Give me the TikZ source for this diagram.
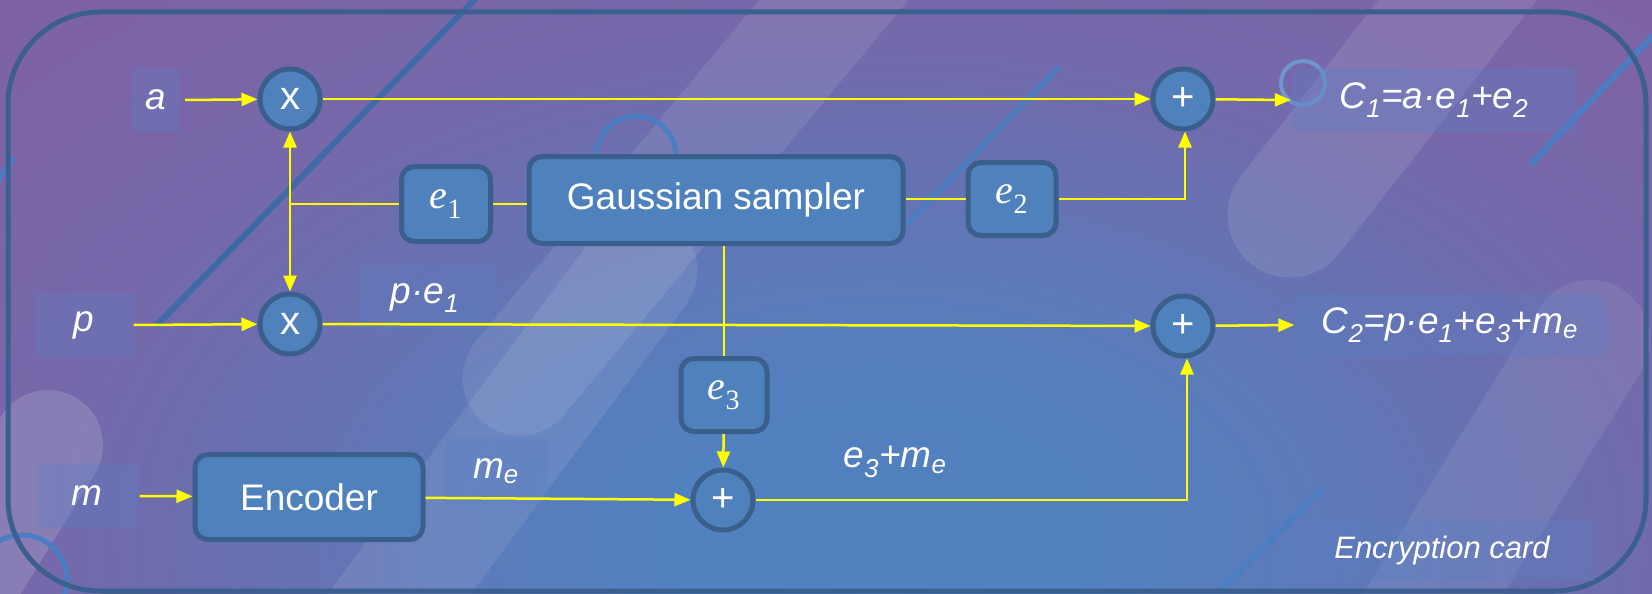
\documentclass[tikz,border=0pt]{standalone}
\usepackage{fontspec}
\setmainfont{Liberation Sans}
\newfontfamily\evarfont{Liberation Serif}
\newcommand{\eSym}[1]{{\evarfont\itshape e}{\evarfont\textsubscript{#1}}}
\usetikzlibrary{arrows.meta}
\definecolor{nodefill}{HTML}{4F81BD}
\definecolor{nodeline}{HTML}{3A5F8C}
\definecolor{wireyellow}{HTML}{FFFF00}
\definecolor{frameline}{HTML}{3B5F8E}
\definecolor{decoline}{HTML}{4A7DC2}
\definecolor{decodark}{HTML}{3F6AA8}
\definecolor{labelfill}{HTML}{5A80C4}
\pgfdeclareradialshading{bgrad}{\pgfpoint{0bp}{0bp}}{rgb(0bp)=(0.31,0.51,0.75); rgb(6bp)=(0.32,0.505,0.75); rgb(12bp)=(0.36,0.48,0.73); rgb(18bp)=(0.41,0.44,0.69); rgb(24bp)=(0.46,0.41,0.67); rgb(32bp)=(0.49,0.39,0.65); rgb(50bp)=(0.50,0.38,0.64)}
\tikzset{
  blockbox/.style={draw=nodeline, line width=5pt, fill=nodefill, rounded corners=13pt, text=white, inner sep=0pt},
  opcircle/.style={draw=nodeline, line width=5pt, fill=nodefill, circle, minimum size=60pt, inner sep=0pt, text=white, font=\fontsize{40}{40}\selectfont},
  labelbox/.style={fill=labelfill, fill opacity=0.3, text opacity=1, text=white, inner sep=0pt, font=\fontsize{37}{40}\selectfont\itshape},
  wire/.style={draw=wireyellow, line width=2.5pt},
  arr/.style={wire, -{Triangle[length=16pt,width=13pt]}},
  capsule/.style={line cap=round, draw=white, draw opacity=0.09},
  deco/.style={line cap=round, line width=5pt, draw=decoline},
}
\begin{document}
\begin{tikzpicture}[x=1pt,y=-1pt]
\useasboundingbox (0,0) rectangle (1652,594);
\begin{scope}
\clip (0,0) rectangle (1652,594);
\shade[shading=bgrad] (0,0) rectangle (1760,1080);
% translucent capsules
\draw[capsule, line width=115pt] (350,660) -- (640,270);
\draw[capsule, line width=115pt] (520,378) -- (900,-80);
\draw[capsule, line width=125pt, draw opacity=0.1] (1290,215) -- (1520,-80);
\draw[capsule, line width=120pt, draw opacity=0.08] (1590,340) -- (1380,680);
\draw[capsule, line width=110pt, draw opacity=0.14] (48,445) -- (-60,620);
% thin decorative lines and rings
\draw[deco, draw=decodark, line width=6pt] (158,324) -- (479,-5);
\draw[deco] (1058,68) -- (908,223);
\draw[deco, line width=6pt] (1660,28) -- (1532,163);
\draw[deco] (1321,490) -- (1210,600);
\draw[deco] (-5,185) -- (13,159);
\draw[decoline, line width=5pt] (636,156) circle[radius=40pt];
\draw[decoline!80!white, line width=4pt] (1303,83) circle[radius=22pt];
\draw[decoline, line width=5pt] (22,580) circle[radius=45pt];
\end{scope}
% card frame
\draw[frameline, line width=5pt, rounded corners=92pt] (8,12) rectangle (1646,591);

% label boxes
\node[labelbox, minimum width=48pt, minimum height=63pt] (a) at (156,100) {a};
\node[labelbox, minimum width=99pt, minimum height=65pt] (p) at (84,325) {p};
\node[labelbox, minimum width=101pt, minimum height=64pt] (m) at (87,496) {m};
\node[labelbox, minimum width=286pt, minimum height=63pt] (c1) at (1434,100) {C\textsubscript{1}=a·e\textsubscript{1}+e\textsubscript{2}};
\node[labelbox, minimum width=311pt, minimum height=63pt] (c2) at (1450,325) {C\textsubscript{2}=p·e\textsubscript{1}+e\textsubscript{3}+m\textsubscript{e}};
\node[labelbox, minimum width=135pt, minimum height=66pt] (pe) at (425,298) {p·e\textsubscript{1}};
\node[labelbox, minimum width=103pt, minimum height=67pt] (me) at (496,471) {m\textsubscript{e}};
\node[labelbox, fill opacity=0.12, minimum width=150pt, minimum height=64pt] (em) at (895,462) {e\textsubscript{3}+m\textsubscript{e}};
\node[labelbox, font=\fontsize{31}{34}\selectfont\itshape, minimum width=305pt, minimum height=61pt] (card) at (1442,550) {Encryption card};

% blocks
\node[opcircle] (x1) at (290,99) {x};
\node[opcircle] (x2) at (290,324) {x};
\node[opcircle] (s1) at (1183,99) {+};
\node[opcircle] (s2) at (1183,326) {+};
\node[opcircle] (s3) at (723,500) {+};
\node[blockbox, minimum width=89pt, minimum height=75pt, font=\fontsize{40}{40}\selectfont] (e1) at (446,204) {\eSym{1}};
\node[blockbox, minimum width=374pt, minimum height=87pt, font=\fontsize{37}{40}\selectfont] (g) at (716,200) {Gaussian sampler};
\node[blockbox, minimum width=88pt, minimum height=73pt, font=\fontsize{40}{40}\selectfont] (e2) at (1012,199) {\eSym{2}};
\node[blockbox, minimum width=86pt, minimum height=73pt, font=\fontsize{40}{40}\selectfont] (e3) at (724,395) {\eSym{3}};
\node[blockbox, minimum width=228pt, minimum height=85pt, font=\fontsize{37}{40}\selectfont] (enc) at (309,497) {Encoder};

% connectors
\draw[arr] ([xshift=5pt]a.east) -- (x1);
\draw[arr] (x1) -- (s1);
\draw[arr] (s1) -- (c1.west);
\draw[arr] (p.east) -- (x2);
\draw[arr] (x2) -- (s2);
\draw[arr] (s2) -- (c2.west);
\draw[arr] ([xshift=2pt]m.east) -- (enc);
\draw[arr] (enc) -- (s3);
\draw[arr] (s3) -| ([xshift=4pt]s2.south);
\draw[wire, {Triangle[length=16pt,width=13pt]}-{Triangle[length=16pt,width=13pt]}] (x1) -- (x2);
\draw[wire] (e1.west) -- (e1.west -| x1);
\draw[wire] (e1.east) -- (e1.east -| g.west);
\draw[wire] (g.east |- e2.west) -- (e2.west);
\draw[arr] (e2.east) -| ([xshift=2pt]s1.south);
\draw[wire, line width=1.5pt] (g.south -| e3.north) -- (e3.north);
\draw[arr] (e3) -- (s3);
\end{tikzpicture}
\end{document}
